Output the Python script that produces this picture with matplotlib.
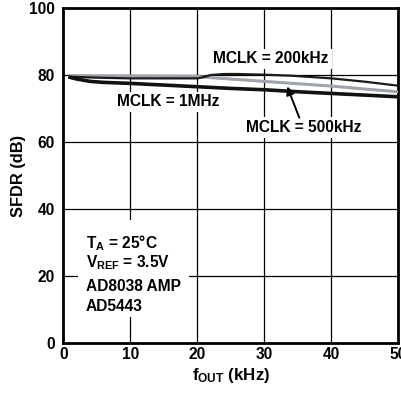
import matplotlib
matplotlib.use("Agg")
import matplotlib.pyplot as plt
from matplotlib.patches import Rectangle

plt.rcParams['font.family'] = ['Liberation Sans', 'DejaVu Sans']
plt.rcParams['font.weight'] = 'bold'
plt.rcParams['mathtext.fontset'] = 'custom'
plt.rcParams['mathtext.rm'] = 'Liberation Sans:bold'
plt.rcParams['mathtext.it'] = 'Liberation Sans:bold'
plt.rcParams['mathtext.bf'] = 'Liberation Sans:bold'

# Data (kHz, dB)
f_1mhz = [1, 2, 4, 6, 10, 15, 20, 25, 30, 35, 40, 45, 50]
sfdr_1mhz = [79.3, 78.8, 78.1, 77.8, 77.5, 77.0, 76.5, 76.0, 75.6, 75.0, 74.5, 74.0, 73.5]

f_200k = [1, 5, 10, 15, 20, 21, 22, 24, 26, 30, 34, 40, 45, 50]
sfdr_200k = [79.5, 79.2, 79.0, 79.0, 79.0, 79.4, 80.0, 80.3, 80.3, 80.1, 79.8, 79.0, 78.0, 76.8]

f_500k = [1, 10, 20, 22, 25, 30, 35, 40, 45, 50]
sfdr_500k = [79.8, 79.7, 79.6, 79.2, 78.8, 78.1, 77.4, 76.7, 75.8, 75.0]

x_ticks = [0, 10, 20, 30, 40, 50]
y_ticks = [0, 20, 40, 60, 80, 100]

FS = 11.2

fig = plt.figure(figsize=(4.02, 3.93), dpi=100)
ax = fig.add_axes([0.1575, 0.1272, 0.8336, 0.8524])
ax.set_xlim(0, 50)
ax.set_ylim(0, 100)
ax.set_xticks(x_ticks)
ax.set_yticks(y_ticks)
ax.tick_params(axis='both', length=0, labelsize=FS)
ax.tick_params(axis='y', pad=6)
ax.tick_params(axis='x', pad=3)
for lab in ax.get_xticklabels() + ax.get_yticklabels():
    lab.set_fontweight('bold')
ax.grid(True, color='black', lw=0.9)
ax.set_axisbelow(True)
for s in ax.spines.values():
    s.set_linewidth(2)

ax.plot(f_500k, sfdr_500k, color='#9ea4aa', lw=2.2, zorder=3)
ax.plot(f_200k, sfdr_200k, color='#1a1a1a', lw=1.6, zorder=4)
ax.plot(f_1mhz, sfdr_1mhz, color='#111111', lw=2.6, zorder=4)

bb = dict(facecolor='white', edgecolor='none', pad=2)
ax.text(31.0, 84.8, 'MCLK = 200kHz', ha='center', va='center', fontsize=FS,
        fontweight='bold', bbox=bb, zorder=5)
ax.text(15.6, 72.0, 'MCLK = 1MHz', ha='center', va='center', fontsize=FS,
        fontweight='bold', bbox=bb, zorder=5)
ax.text(35.9, 64.4, 'MCLK = 500kHz', ha='center', va='center', fontsize=FS,
        fontweight='bold', bbox=bb, zorder=5)
ax.annotate('', xy=(33.4, 76.6), xytext=(35.2, 67.3),
            arrowprops=dict(arrowstyle='-|>', color='black', lw=1.4,
                            mutation_scale=12, shrinkA=0, shrinkB=0), zorder=5)

ax.add_patch(Rectangle((2.2, 7.8), 16.6, 28.9, facecolor='white',
                       edgecolor='none', zorder=2))
info = [r'T$_\mathregular{A}$ = 25°C', r'V$_\mathregular{REF}$ = 3.5V',
        'AD8038 AMP', 'AD5443']
ys = [29.9, 23.9, 16.8, 11.0]
for t, y in zip(info, ys):
    ax.text(3.4, y, t, ha='left', va='center', fontsize=FS, fontweight='bold',
            zorder=5)

ax.set_ylabel('SFDR (dB)', fontsize=11.8, fontweight='bold', labelpad=2)
ax.set_xlabel(r'f$_\mathregular{OUT}$ (kHz)', fontsize=12.2, fontweight='bold',
              labelpad=3)

fig.savefig('out.png', dpi=100)
